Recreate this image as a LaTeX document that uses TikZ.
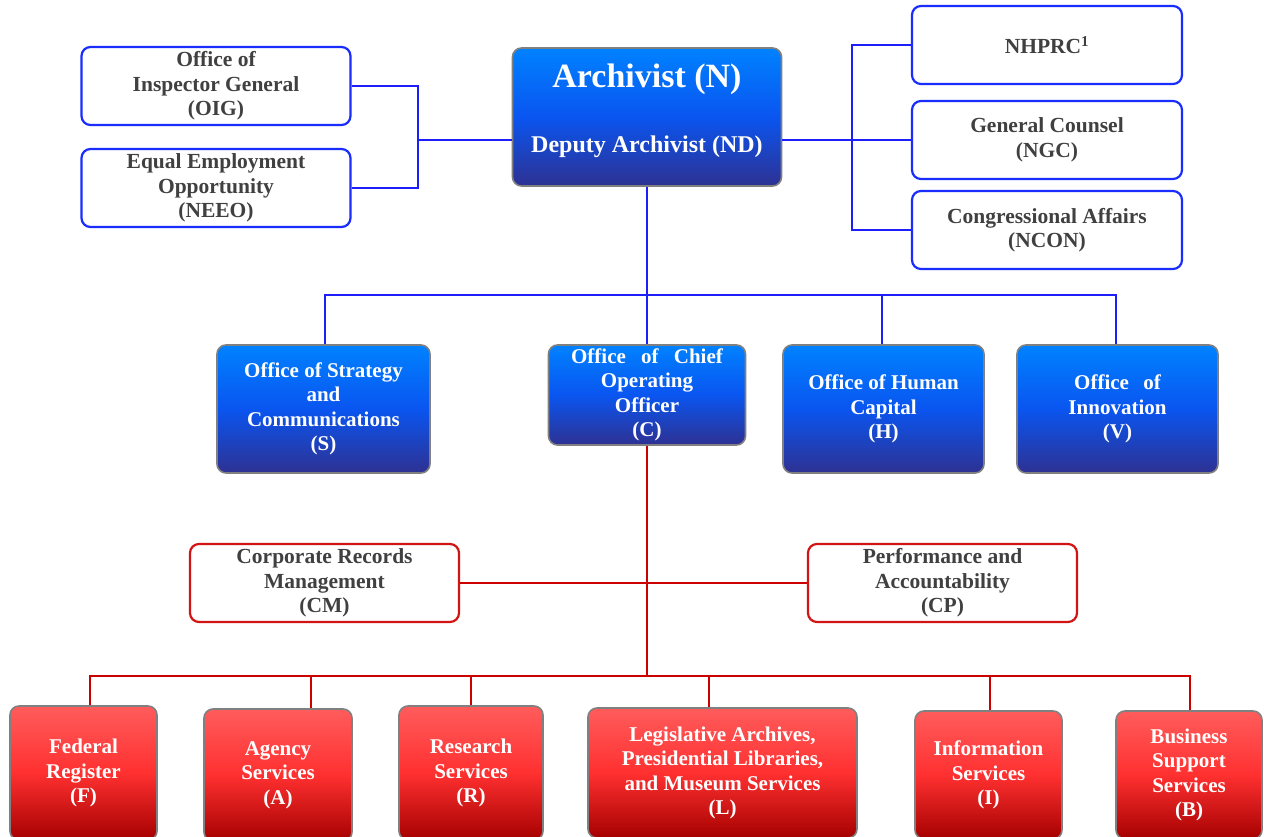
\documentclass[tikz,border=0pt]{standalone}
\usepackage{fontspec}
\setmainfont{Liberation Serif}
\definecolor{bTop}{RGB}{0,130,255}
\definecolor{bMid}{RGB}{10,85,240}
\definecolor{bBot}{RGB}{46,49,146}
\definecolor{rTop}{RGB}{255,92,92}
\definecolor{rMid}{RGB}{255,48,48}
\definecolor{rBot}{RGB}{165,0,0}
\definecolor{boxEdge}{RGB}{128,128,128}
\definecolor{oBlue}{RGB}{25,45,255}
\definecolor{oRed}{RGB}{210,20,20}
\definecolor{lBlue}{RGB}{30,30,250}
\definecolor{lRed}{RGB}{205,0,0}
\definecolor{tGray}{RGB}{64,64,64}
\begin{document}
\begin{tikzpicture}[x=1pt,y=-1pt,
  fillbase/.style={rectangle, rounded corners=9pt, draw=boxEdge, line width=1.6pt,
    inner sep=0pt, align=center, text=white, font=\fontsize{21}{24.5}\selectfont\bfseries},
  bluebox/.style={fillbase, top color=bTop, bottom color=bBot, middle color=bMid},
  redbox/.style={fillbase, top color=rTop, bottom color=rBot, middle color=rMid},
  obox/.style={rectangle, rounded corners=9pt, draw=oBlue, line width=2.2pt, fill=white,
    inner sep=0pt, align=center, text=tGray, font=\fontsize{21.5}{24.5}\selectfont\bfseries,
    minimum width=269pt, minimum height=78pt},
  rbox/.style={obox, draw=oRed},
  wtext/.style={inner sep=0pt, text=white},
  blueline/.style={draw=lBlue, line width=1.8pt},
  redline/.style={draw=lRed, line width=1.8pt}]
\useasboundingbox (0,0) rectangle (1264,837);
\clip (0,0) rectangle (1264,837);
\fill[white] (0,0) rectangle (1264,837);

% top
\node[bluebox, minimum width=269pt, minimum height=138pt] (N) at (647,117) {};
\node[wtext, font=\fontsize{34}{40}\selectfont\bfseries] (Nt) at (647,79) {Archivist (N)};
\node[wtext, font=\fontsize{24}{28}\selectfont\bfseries] (Nd) at (647,147) {Deputy Archivist (ND)};

\node[obox] (OIG) at (216,86) {Office of\\Inspector General\\(OIG)};
\node[obox] (NEEO) at (216,188) {Equal Employment\\Opportunity\\(NEEO)};

\node[obox, minimum width=270pt] (NHPRC) at (1047,45) {NHPRC\textsuperscript{1}};
\node[obox, minimum width=270pt] (NGC) at (1047,140) {General Counsel\\(NGC)};
\node[obox, minimum width=270pt] (NCON) at (1047,230) {Congressional Affairs\\(NCON)};

% second row
\node[bluebox, minimum width=213pt, minimum height=128pt] (S) at (323.5,409) {Office of Strategy\\and\\Communications\\(S)};
\node[bluebox, minimum width=197pt, minimum height=100pt] (C) at (647,395) {Office\hspace{10pt} of\hspace{10pt} Chief\\Operating\\Officer\\(C)};
\node[bluebox, minimum width=201pt, minimum height=128pt] (H) at (883.5,409) {Office of Human\\Capital\\(H)};
\node[bluebox, minimum width=201pt, minimum height=128pt] (V) at (1117.5,409) {Office\hspace{9pt} of\\Innovation\\(V)};

% staff under C
\node[rbox] (CM) at (324.5,583) {Corporate Records\\Management\\(CM)};
\node[rbox] (CP) at (942.5,583) {Performance and\\Accountability\\(CP)};

% bottom row
\node[redbox, minimum width=147pt, minimum height=134pt] (F) at (83.5,773) {Federal\\Register\\(F)};
\node[redbox, minimum width=148pt, minimum height=132pt] (A) at (278,775) {Agency\\Services\\(A)};
\node[redbox, minimum width=144pt, minimum height=134pt] (R) at (471,773) {Research\\Services\\(R)};
\node[redbox, minimum width=269pt, minimum height=130pt] (L) at (722.5,773) {Legislative Archives,\\Presidential Libraries,\\and Museum Services\\(L)};
\node[redbox, minimum width=147pt, minimum height=128pt] (I) at (988.5,775) {Information\\Services\\(I)};
\node[redbox, minimum width=146pt, minimum height=128pt] (B) at (1189,775) {Business\\Support\\Services\\(B)};

% blue connectors
\coordinate (jL) at (418,140);
\coordinate (jR) at (852,140);
\coordinate (bus1) at (647,295);
\draw[blueline] (OIG.east) -| (jL) |- (NEEO.east);
\draw[blueline] (jL) -- (jL -| N.west);
\draw[blueline] (NHPRC.west) -| (jR) |- (NCON.west);
\draw[blueline] (N.east |- jR) -- (NGC.west);
\draw[blueline] (N.south) -- (C.north);
\draw[blueline] ([xshift=1.5pt]S.north) |- (bus1) -| ([xshift=-1.5pt]V.north);
\draw[blueline] ([xshift=-1.5pt]H.north) |- (bus1);

% red connectors
\coordinate (bus2) at (647,676);
\draw[redline] (C.south) -- (bus2);
\draw[redline] (CM.east) -- (CP.west);
\draw[redline] ([xshift=6.5pt]F.north) |- (bus2) -| ([xshift=1pt]B.north);
\draw[redline] ([xshift=33pt]A.north) |- (bus2);
\draw[redline] (R.north) |- (bus2);
\draw[redline] ([xshift=-13.5pt]L.north) |- (bus2);
\draw[redline] ([xshift=1.5pt]I.north) |- (bus2);
\end{tikzpicture}
\end{document}
